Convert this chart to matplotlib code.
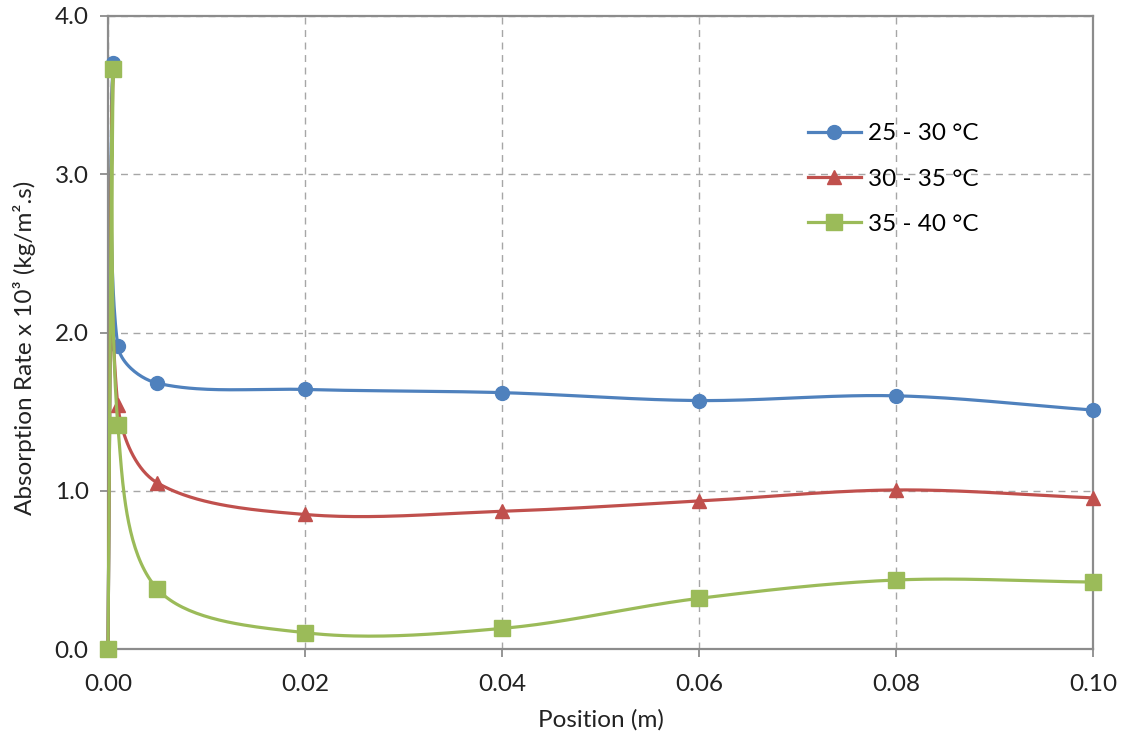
import numpy as np
import matplotlib
matplotlib.use("Agg")
import matplotlib.pyplot as plt

plt.rcParams['font.family'] = ['Lato', 'DejaVu Sans']

position = [0.0, 0.0005, 0.001, 0.005, 0.02, 0.04, 0.06, 0.08, 0.10]
rate_25_30 = [0.0, 3.70, 1.915, 1.68, 1.64, 1.62, 1.57, 1.60, 1.51]
rate_30_35 = [0.0, 3.67, 1.54, 1.05, 0.85, 0.87, 0.935, 1.005, 0.955]
rate_35_40 = [0.0, 3.665, 1.415, 0.38, 0.103, 0.13, 0.32, 0.436, 0.423]
labels = ["25 - 30 °C", "30 - 35 °C", "35 - 40 °C"]
colors = ["#4F81BD", "#C0504D", "#9BBB59"]
markers = ["o", "^", "s"]
msizes = [10, 10.5, 11]

FS = 17.5

fig = plt.figure(figsize=(11.26, 7.42), dpi=100)
ax = fig.add_axes([108 / 1126, 93 / 742, 985 / 1126, 633 / 742])
xmin, xmax, ymin, ymax = 0.0, 0.10, 0.0, 4.0
ax.set_xlim(xmin, xmax)
ax.set_ylim(ymin, ymax)


def smooth(xs, ys, n=40):
    """Bezier smoothing through every point. Tangents follow the neighbour
    chord; each arm is weighted by the length of its own segment, and the
    whole thing is evaluated in screen proportions of the axes box."""
    sx = 985 / (xmax - xmin)
    sy = 633 / (ymax - ymin)
    P = np.column_stack([np.asarray(xs) * sx, np.asarray(ys) * sy])
    m = len(P)
    d = np.hypot(*np.diff(P, axis=0).T)
    arm_out = np.zeros_like(P)
    arm_in = np.zeros_like(P)
    for i in range(m):
        prev_ = P[max(i - 1, 0)]
        next_ = P[min(i + 1, m - 1)]
        T = next_ - prev_
        dp = d[i - 1] if i > 0 else 0.0
        dn = d[i] if i < m - 1 else 0.0
        tot = dp + dn
        if tot == 0:
            continue
        arm_out[i] = T * dn / tot / 3.0
        arm_in[i] = T * dp / tot / 3.0
    out = []
    t = np.linspace(0, 1, n, endpoint=False)[:, None]
    for i in range(m - 1):
        p1, p2 = P[i], P[i + 1]
        c1 = p1 + arm_out[i]
        c2 = p2 - arm_in[i + 1]
        seg = ((1 - t) ** 3) * p1 + 3 * ((1 - t) ** 2) * t * c1 \
            + 3 * (1 - t) * t ** 2 * c2 + t ** 3 * p2
        out.append(seg)
    out.append(P[-1][None, :])
    pts = np.vstack(out)
    return pts[:, 0] / sx, pts[:, 1] / sy, n


for ys, lab, col, mk, ms in zip([rate_25_30, rate_30_35, rate_35_40],
                                 labels, colors, markers, msizes):
    cx, cy, n = smooth(position, ys)
    idx = [i * n for i in range(len(position))]
    ax.plot(cx, cy, color=col, lw=2.3, marker=mk, ms=ms, markevery=idx,
            label=lab, clip_on=False, zorder=3)

ax.set_xticks(np.arange(0, 0.1001, 0.02))
ax.set_yticks(np.arange(0, 4.01, 1.0))
ax.set_xticklabels([f"{v:.2f}" for v in np.arange(0, 0.1001, 0.02)])
ax.set_yticklabels([f"{v:.1f}" for v in np.arange(0, 4.01, 1.0)])
ax.grid(True, color="#A6A6A6", linestyle=(0, (5, 4)), linewidth=1.0)
ax.set_axisbelow(True)
for s in ax.spines.values():
    s.set_color("#8C8C8C")
    s.set_linewidth(1.6)
ax.tick_params(direction="out", length=6, width=1.3, color="#8C8C8C",
               labelsize=FS, labelcolor="#222222")
ax.tick_params(axis="x", pad=12)
ax.tick_params(axis="y", pad=8)

ax.set_xlabel("Position (m)", fontsize=FS, color="#222222", labelpad=10)
ax.set_ylabel("Absorption Rate x 10³ (kg/m².s)", fontsize=FS,
              color="#222222", labelpad=13)
ax.yaxis.label.set_y(0.475)

leg = ax.legend(loc="upper left", bbox_to_anchor=(0.688, 0.865), frameon=False,
                fontsize=FS, handlelength=2.2, labelspacing=1.0,
                handletextpad=0.3)

fig.savefig("out.png", dpi=100)
